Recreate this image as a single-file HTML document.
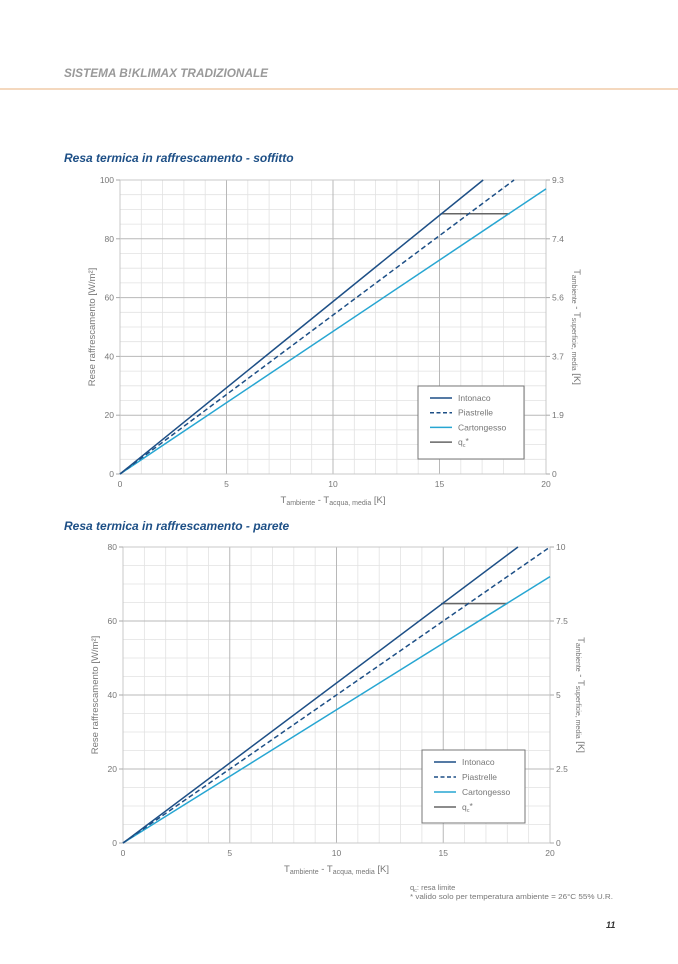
<!DOCTYPE html>
<html><head><meta charset="utf-8"><style>
body{margin:0;background:#fff;width:678px;height:959px;overflow:hidden;font-family:"Liberation Sans",sans-serif}
</style></head><body>
<svg width="678" height="959" xmlns="http://www.w3.org/2000/svg" font-family="Liberation Sans, sans-serif">
<text x="64" y="77" font-size="11.8" font-weight="bold" font-style="italic" fill="#999">SISTEMA B!KLIMAX TRADIZIONALE</text>
<line x1="0" y1="89" x2="678" y2="89" stroke="#f0cba8" stroke-width="1.5"/>
<text x="64" y="162" font-size="12" font-weight="bold" font-style="italic" fill="#1d4f86">Resa termica in raffrescamento - soffitto</text>
<text x="64" y="530" font-size="12" font-weight="bold" font-style="italic" fill="#1d4f86">Resa termica in raffrescamento - parete</text>
<g id="c1"></g><g id="c2"></g>
<text x="410" y="890" font-size="7.5" fill="#777">q<tspan font-size="5.5" dy="2">c</tspan><tspan dy="-2">: resa limite</tspan></text>
<text x="410" y="899" font-size="7" fill="#777" textLength="203" lengthAdjust="spacingAndGlyphs">* valido solo per temperatura ambiente = 26°C 55% U.R.</text>
<text x="606" y="928" font-size="9" font-style="italic" font-weight="bold" fill="#333">11</text>
</svg>
<script>
function chart(g,o){
 var s='',x0=o.x0,x1=o.x1,y0=o.y0,y1=o.y1,ym=o.ymax;
 function X(u){return x0+u*(x1-x0)/20}function Y(v){return y0-v*(y0-y1)/ym}
 for(var u=1;u<20;u++){if(u%5)s+='<line x1="'+X(u)+'" y1="'+y1+'" x2="'+X(u)+'" y2="'+y0+'" stroke="#e2e2e2" stroke-width="0.8"/>';}
 for(var v=5;v<ym;v+=5){if(v%20)s+='<line x1="'+x0+'" y1="'+Y(v)+'" x2="'+x1+'" y2="'+Y(v)+'" stroke="#e2e2e2" stroke-width="0.8"/>';}
 for(var u=5;u<20;u+=5)s+='<line x1="'+X(u)+'" y1="'+y1+'" x2="'+X(u)+'" y2="'+y0+'" stroke="#b8b8b8" stroke-width="1"/>';
 for(var v=20;v<ym;v+=20)s+='<line x1="'+x0+'" y1="'+Y(v)+'" x2="'+x1+'" y2="'+Y(v)+'" stroke="#b8b8b8" stroke-width="1"/>';
 s+='<rect x="'+x0+'" y="'+y1+'" width="'+(x1-x0)+'" height="'+(y0-y1)+'" fill="none" stroke="#c8c8c8"/>';
 for(var u=0;u<=20;u+=5)s+='<text x="'+X(u)+'" y="'+(y0+13)+'" font-size="8.5" fill="#777" text-anchor="middle">'+u+'</text>';
 for(var i=0;i<=ym/20;i++){var v=i*20;s+='<text x="'+(x0-6)+'" y="'+(Y(v)+3)+'" font-size="8.5" fill="#777" text-anchor="end">'+v+'</text>';
  s+='<text x="'+(x1+6)+'" y="'+(Y(v)+3)+'" font-size="8.5" fill="#777">'+o.r[i]+'</text>';
  s+='<line x1="'+(x0-4)+'" y1="'+Y(v)+'" x2="'+x0+'" y2="'+Y(v)+'" stroke="#aaa"/><line x1="'+x1+'" y1="'+Y(v)+'" x2="'+(x1+4)+'" y2="'+Y(v)+'" stroke="#aaa"/>';}
 var cx=(x0+x1)/2;
 s+='<text x="'+cx+'" y="'+(y0+29)+'" font-size="9.5" fill="#777" text-anchor="middle">T<tspan font-size="7" dy="2">ambiente</tspan><tspan dy="-2"> - T</tspan><tspan font-size="7" dy="2">acqua, media</tspan><tspan dy="-2"> [K]</tspan></text>';
 var cy=(y0+y1)/2;
 s+='<text transform="translate('+(x0-25)+','+cy+') rotate(-90)" font-size="9.5" fill="#777" text-anchor="middle">Rese raffrescamento [W/m²]</text>';
 s+='<text transform="translate('+(x1+28)+','+cy+') rotate(90)" font-size="9.5" fill="#777" text-anchor="middle">T<tspan font-size="7" dy="2">ambiente</tspan><tspan dy="-2"> - T</tspan><tspan font-size="7" dy="2">superficie, media</tspan><tspan dy="-2"> [K]</tspan></text>';
 var L=o.l;
 s+='<line x1="'+X(L.qa)+'" y1="'+Y(L.qy)+'" x2="'+X(L.qb)+'" y2="'+Y(L.qy)+'" stroke="#666" stroke-width="1.5"/>';
 s+='<line x1="'+x0+'" y1="'+y0+'" x2="'+X(L.c[0])+'" y2="'+Y(L.c[1])+'" stroke="#27a6d2" stroke-width="1.5"/>';
 s+='<line x1="'+x0+'" y1="'+y0+'" x2="'+X(L.p[0])+'" y2="'+Y(L.p[1])+'" stroke="#1d4f86" stroke-width="1.5" stroke-dasharray="5,3"/>';
 s+='<line x1="'+x0+'" y1="'+y0+'" x2="'+X(L.i[0])+'" y2="'+Y(L.i[1])+'" stroke="#1d4f86" stroke-width="1.5"/>';
 var b=o.b;
 s+='<rect x="'+b[0]+'" y="'+b[1]+'" width="'+b[2]+'" height="'+b[3]+'" fill="#fff" stroke="#777" stroke-width="1"/>';
 var nm=['Intonaco','Piastrelle','Cartongesso','q'],col=['#1d4f86','#1d4f86','#27a6d2','#666'];
 for(var k=0;k<4;k++){var yy=b[1]+12+k*b[4];
  s+='<line x1="'+(b[0]+12)+'" y1="'+yy+'" x2="'+(b[0]+34)+'" y2="'+yy+'" stroke="'+col[k]+'" stroke-width="1.5"'+(k==1?' stroke-dasharray="4,2.5"':'')+'/>';
  s+='<text x="'+(b[0]+40)+'" y="'+(yy+3)+'" font-size="8.5" fill="#777">'+nm[k]+(k==3?'<tspan font-size="5.5" dy="2">c</tspan><tspan dy="-3">*</tspan>':'')+'</text>';}
 document.getElementById(g).innerHTML=s;
}
chart('c1',{x0:120,x1:546,y0:474,y1:180,ymax:100,r:['0','1.9','3.7','5.6','7.4','9.3'],
 l:{i:[17.05,100],p:[18.5,100],c:[20,97],qy:88.5,qa:15.05,qb:18.3},b:[418,386,106,73,14.7]});
chart('c2',{x0:123,x1:550,y0:843,y1:547,ymax:80,r:['0','2.5','5','7.5','10'],
 l:{i:[18.5,80],p:[20,80],c:[20,72],qy:64.7,qa:14.9,qb:18},b:[422,750,103,73,15]});
</script>
</body></html>
